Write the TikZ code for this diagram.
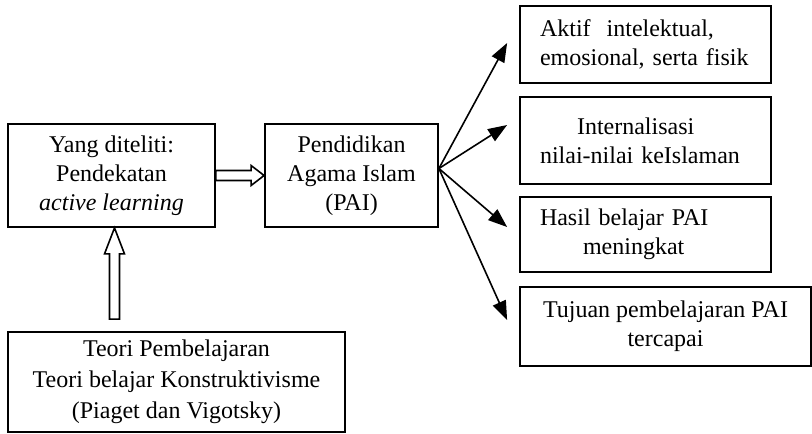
\documentclass[tikz,border=0pt]{standalone}
\usepackage{fontspec}
\setmainfont{Liberation Serif}
\usepackage{tikz}
\usetikzlibrary{arrows.meta,positioning,calc}

% hollow block arrow: #1 head length, #2 from, #3 to
\newcommand{\hollowarrow}[3]{%
  \coordinate (hb) at ($(#3)!#1!(#2)$);
  \draw[line width=0.8pt, fill=white] ($(#2)!2.5pt!90:(#3)$) -- ($(hb)!2.5pt!-90:(#2)$)
    -- ($(hb)!5pt!-90:(#2)$) -- (#3) -- ($(hb)!5pt!90:(#2)$)
    -- ($(hb)!2.5pt!90:(#2)$) -- ($(#2)!2.5pt!-90:(#3)$) -- cycle;}

\tikzset{
  box/.style={draw, line width=0.9pt, inner sep=0pt, align=center, font=\fontsize{12}{14.5}\selectfont},
  goalbox/.style={box, align=left, inner xsep=10pt, text width=105.5pt}
}

\begin{document}
\begin{tikzpicture}[x=0.5pt, y=-0.5pt, >={Triangle[length=9.5pt,width=7pt]}]
\useasboundingbox (0,0) rectangle (812,433);

% Left side
\node [box, minimum width=103.5pt, minimum height=51.5pt] (ident) at (111.5,175.5)
  {Yang diteliti:\\Pendekatan\\\textit{active learning}};
\node [box, minimum width=86.5pt, minimum height=51.5pt] (pai) at (351.5,175.5)
  {Pendidikan\\Agama Islam\\(PAI)};
\node [box, minimum width=168.5pt, minimum height=50pt, font=\fontsize{12}{15.5}\selectfont] (teori) at (176.5,382)
  {Teori Pembelajaran\\Teori belajar Konstruktivisme\\(Piaget dan Vigotsky)};

% Outcomes
\node [goalbox, minimum height=38.5pt] (aktif) at (645.5,44.5)
  {Aktif~ intelektual,\\emosional, serta fisik};
\node [goalbox, minimum height=43.5pt] (nilai) at (645.5,140.5)
  {\hspace*{18.5pt}Internalisasi\\nilai-nilai keIslaman};
\node [goalbox, minimum height=37.5pt] (hasil) at (645.5,234.5)
  {Hasil belajar PAI\\\hspace*{21.5pt}meningkat};
\node [box, minimum width=145.5pt, minimum height=39.5pt] (tujuan) at (665.5,326.5)
  {Tujuan pembelajaran PAI\\tercapai};

% Block arrows
\hollowarrow{6.5pt}{ident.east}{pai.west}
\coordinate (up0) at ($(ident.south |- teori.north)+(3,-12)$);
\hollowarrow{13pt}{up0}{ident.south -| up0}

% Connections
\coordinate (fan) at ($(pai.east)+(0,-7)$);
\draw [->, line width=0.8pt] (fan) -- ([xshift=-6pt,yshift=0.75pt]aktif.west);
\draw [->, line width=0.8pt] (fan) -- ([xshift=-6pt,yshift=7.75pt]nilai.west);
\draw [->, line width=0.8pt] (fan) -- ([xshift=-6pt,yshift=3.75pt]hasil.west);
\draw [->, line width=0.8pt] (fan) -- ([xshift=-6pt,yshift=3.25pt]tujuan.west);
\end{tikzpicture}
\end{document}
